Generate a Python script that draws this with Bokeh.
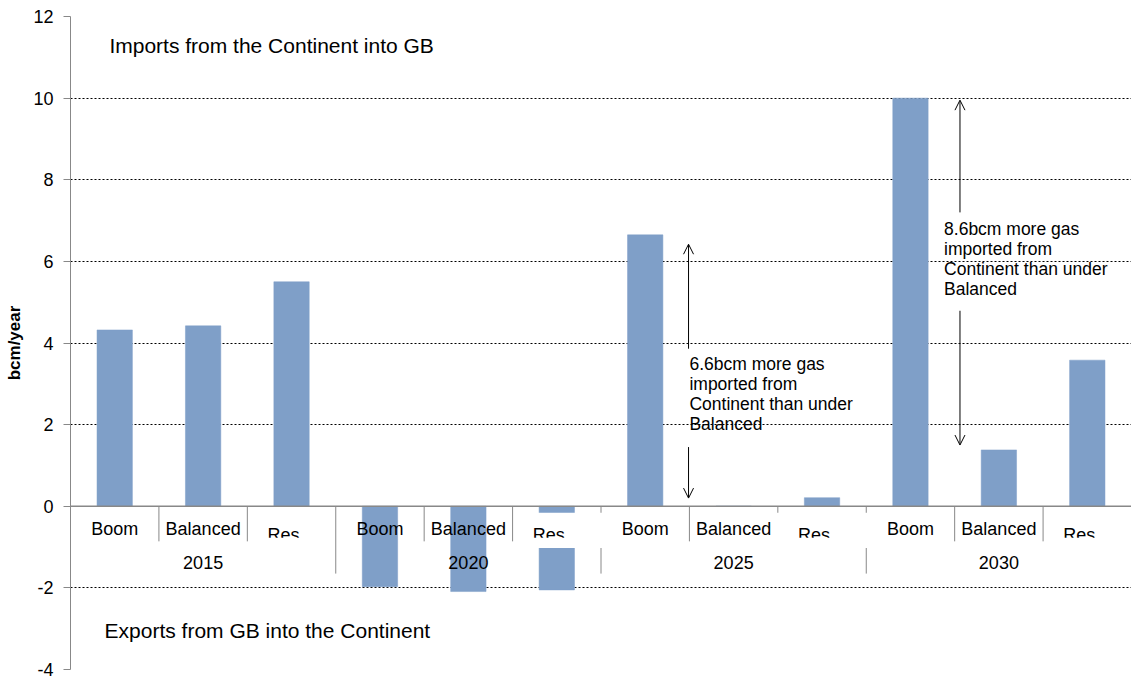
from bokeh.plotting import figure
from bokeh.models import (FactorRange, Range1d, Span, Arrow, OpenHead, Label,
                          FixedTicker, ColumnDataSource)
from bokeh.transform import dodge
from bokeh.embed import file_html
from bokeh.resources import INLINE
from bokeh.core.properties import value

# ---- data ----
years = ["2015", "2020", "2025", "2030"]
scenarios = ["Boom", "Balanced", "Res"]
boom = [4.32, -1.97, 6.65, 10.0]
balanced = [4.42, -2.09, 0.0, 1.38]
res = [5.5, -2.05, 0.21, 3.58]
y_ticks = [-4, -2, 0, 2, 4, 6, 8, 10, 12]
y_label = "bcm/year"
imports_text = "Imports from the Continent into GB"
exports_text = "Exports from GB into the Continent"
note_2025 = "6.6bcm more gas\nimported from\nContinent than under\nBalanced"
note_2030 = "8.6bcm more gas\nimported from\nContinent than under\nBalanced"

FONT = "Liberation Sans"
BAR = "#7f9fc8"
AXIS_GREY = "#888888"

factors = [(y, s) for y in years for s in scenarios]
vals = []
for i in range(len(years)):
    vals += [boom[i], balanced[i], res[i]]

src = ColumnDataSource(dict(x=factors, v=vals))

p = figure(x_range=FactorRange(*factors, range_padding=0, factor_padding=0,
                               group_padding=0, subgroup_padding=0),
           y_range=Range1d(-4, 12),
           width=1131, height=681, output_backend="svg", toolbar_location=None,
           min_border_left=70, min_border_right=0, min_border_top=16,
           min_border_bottom=12)
p.outline_line_color = None
p.background_fill_color = "white"
p.border_fill_color = "white"
p.xaxis.visible = False
p.xgrid.visible = False

p.ygrid.ticker = FixedTicker(ticks=y_ticks)
p.ygrid.grid_line_color = "black"
p.ygrid.grid_line_dash = "2 2"
p.ygrid.grid_line_width = 1

ax = p.yaxis[0]
ax.ticker = FixedTicker(ticks=y_ticks)
ax.major_label_overrides = {t: str(t) for t in y_ticks}
ax.axis_line_color = AXIS_GREY
ax.major_tick_line_color = AXIS_GREY
ax.major_tick_out = 7
ax.major_tick_in = 0
ax.minor_tick_line_color = None
ax.major_label_text_font = FONT
ax.major_label_text_font_size = "18px"
ax.major_label_text_color = "black"
ax.major_label_standoff = 10
ax.axis_label = y_label
ax.axis_label_text_font = FONT
ax.axis_label_text_font_style = "bold"
ax.axis_label_text_font_size = "17px"
ax.axis_label_text_color = "black"
ax.axis_label_standoff = 6

# bars
p.vbar(x="x", top="v", bottom=0, width=0.4, source=src, fill_color=BAR,
       line_color=BAR, line_width=0.5)

# category axis separators
scen_b = [(y, s) for y in years for s in scenarios[1:]]
grp_b = [(y, scenarios[0]) for y in years[1:]]
sb = ColumnDataSource(dict(x=scen_b))
gb = ColumnDataSource(dict(x=grp_b))
p.segment(x0=dodge("x", -0.5, range=p.x_range), x1=dodge("x", -0.5, range=p.x_range),
          y0=0, y1=-0.86, source=sb, line_color=AXIS_GREY, line_width=1)
p.segment(x0=dodge("x", -0.5, range=p.x_range), x1=dodge("x", -0.5, range=p.x_range),
          y0=0, y1=-1.65, source=gb, line_color=AXIS_GREY, line_width=1)

# white label boxes of the "Res" labels that hide parts of the chart
p.quad(left=dodge("x", -0.48, range=p.x_range), right=dodge("x", 0.54, range=p.x_range),
       top=-0.16, bottom=-1.02, source=ColumnDataSource(dict(x=[("2020", "Res")])),
       fill_color="white", line_color=None)
p.quad(left=dodge("x", -0.52, range=p.x_range), right=dodge("x", 0.53, range=p.x_range),
       top=-0.16, bottom=-1.02, source=ColumnDataSource(dict(x=[("2025", "Res")])),
       fill_color="white", line_color=None)

# zero line (category axis)
p.add_layout(Span(location=0, dimension="width", line_color=AXIS_GREY, line_width=1.5))

# scenario labels
lab_bo = ColumnDataSource(dict(x=[f for f in factors if f[1] != "Res"],
                               t=[f[1] for f in factors if f[1] != "Res"]))
p.text(x="x", y=-0.55, text="t", source=lab_bo, text_font=value(FONT),
       text_font_size="18px", text_align="center", text_baseline="middle",
       text_color="black")
lab_res = ColumnDataSource(dict(x=[f for f in factors if f[1] == "Res"],
                                t=[f[1] for f in factors if f[1] == "Res"]))
p.text(x=dodge("x", -0.09, range=p.x_range), y=-0.70, text="t", source=lab_res,
       text_font=value(FONT), text_font_size="18px", text_align="center",
       text_baseline="middle", text_color="black")
# clipping of the "Res" labels
p.quad(left=dodge("x", -0.36, range=p.x_range), right=dodge("x", 0.2, range=p.x_range),
       top=-0.77, bottom=-1.02, source=lab_res, fill_color="white", line_color=None)

# year labels
yl = ColumnDataSource(dict(x=[(y, scenarios[1]) for y in years], t=years))
p.text(x="x", y=-1.39, text="t", source=yl, text_font=value(FONT),
       text_font_size="18px", text_align="center", text_baseline="middle",
       text_color="black")

# free texts
p.add_layout(Label(x=0.44, y=11.28, text=imports_text, text_font=FONT,
                   text_font_size="21px", text_baseline="middle", text_color="black"))
p.add_layout(Label(x=0.385, y=-3.05, text=exports_text, text_font=FONT,
                   text_font_size="21px", text_baseline="middle", text_color="black"))
p.text(x=[7.0], y=[3.72], text=[note_2025], text_font=value(FONT),
       text_font_size="17.5px", text_baseline="top", text_align="left",
       text_line_height=1.0, text_color="black")
p.text(x=[9.88], y=[7.04], text=[note_2030], text_font=value(FONT),
       text_font_size="17.5px", text_baseline="top", text_align="left",
       text_line_height=1.0, text_color="black")

# arrows
def arr(x, y0, y1):
    p.add_layout(Arrow(end=OpenHead(size=10, line_width=1, line_color="black"),
                       x_start=x, y_start=y0, x_end=x, y_end=y1,
                       line_color="black", line_width=1))

arr(6.99, 3.86, 6.42)
arr(6.99, 1.45, 0.2)
arr(10.06, 7.2, 9.95)
arr(10.06, 4.79, 1.5)

open("out.html", "w").write(file_html(p, INLINE))
